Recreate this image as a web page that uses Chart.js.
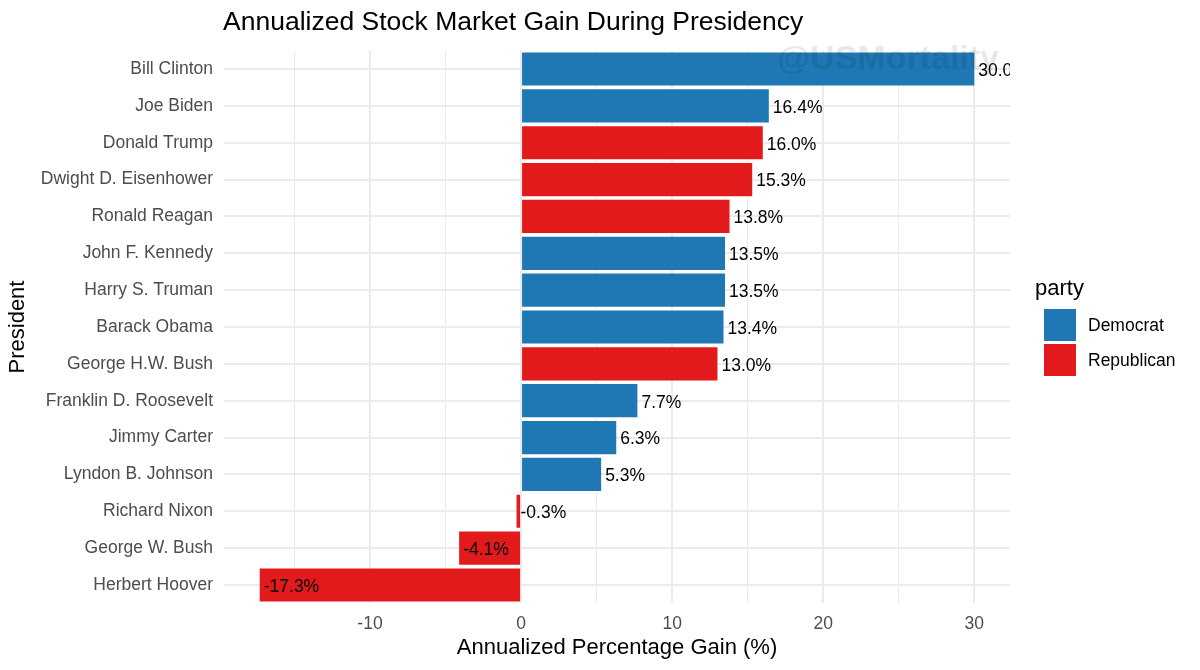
<!DOCTYPE html>
<html>
<head>
<meta charset="utf-8">
<script src="https://cdn.jsdelivr.net/npm/chart.js@4/dist/chart.umd.min.js"></script>
<style>
  html, body { margin: 0; padding: 0; background: #fff; }
  #wrap { width: 1200px; height: 670px; position: relative; }
</style>
</head>
<body>
<div id="wrap"><canvas id="c" width="1200" height="670"></canvas></div>
<script>
const presidents = ["Bill Clinton","Joe Biden","Donald Trump","Dwight D. Eisenhower","Ronald Reagan","John F. Kennedy","Harry S. Truman","Barack Obama","George H.W. Bush","Franklin D. Roosevelt","Jimmy Carter","Lyndon B. Johnson","Richard Nixon","George W. Bush","Herbert Hoover"];
const gains = [30.0, 16.4, 16.0, 15.3, 13.8, 13.5, 13.5, 13.4, 13.0, 7.7, 6.3, 5.3, -0.3, -4.1, -17.3];
const parties = ["Democrat","Democrat","Republican","Republican","Republican","Democrat","Democrat","Democrat","Republican","Democrat","Democrat","Democrat","Republican","Republican","Republican"];
const partyNames = ["Democrat","Republican"];
const partyColors = ["#1f78b4","#e31a1c"];
const majorTicks = [-10, 0, 10, 20, 30];
const minorTicks = [-15, -5, 5, 15, 25];

const FONT = "'Liberation Sans', Arial, Helvetica, sans-serif";
const xMin = -19.665, xMax = 32.365;

const datasets = partyNames.map((p, i) => ({
  label: p,
  data: gains.map((g, j) => parties[j] === p ? g : null),
  backgroundColor: partyColors[i],
  borderWidth: 0,
  barPercentage: 0.9,
  categoryPercentage: 1.0,
  skipNull: true
}));

const labelPlugin = {
  id: 'valueLabels',
  afterDatasetsDraw(chart) {
    const ctx = chart.ctx, a = chart.chartArea;
    ctx.save();
    ctx.beginPath();
    ctx.rect(a.left, a.top - 30, a.right - a.left, a.bottom - a.top + 60);
    ctx.clip();
    ctx.font = "17.5px " + FONT;
    ctx.fillStyle = "#000";
    ctx.textAlign = "left";
    ctx.textBaseline = "middle";
    chart.data.datasets.forEach((ds, di) => {
      const meta = chart.getDatasetMeta(di);
      meta.data.forEach((el, i) => {
        const v = ds.data[i];
        if (v === null || v === undefined) return;
        ctx.fillText(v.toFixed(1) + "%", el.x + 4, el.y + 2);
      });
    });
    ctx.restore();
  }
};

const decorPlugin = {
  id: 'decor',
  afterDraw(chart) {
    const ctx = chart.ctx;
    ctx.save();
    // watermark
    ctx.font = "bold 34px " + FONT;
    ctx.fillStyle = "rgba(0,0,0,0.09)";
    ctx.textAlign = "center";
    ctx.textBaseline = "middle";
    ctx.fillText("@USMortality", 888, 60);
    // title
    ctx.font = "26.5px " + FONT;
    ctx.fillStyle = "#000";
    ctx.textAlign = "left";
    ctx.fillText("Annualized Stock Market Gain During Presidency", 223, 23);
    // legend
    ctx.font = "22px " + FONT;
    ctx.fillText("party", 1035, 289);
    ctx.font = "17.5px " + FONT;
    partyNames.forEach((p, i) => {
      const y = 309 + i * 35;
      ctx.fillStyle = partyColors[i];
      ctx.fillRect(1044, y, 32, 32);
      ctx.fillStyle = "#000";
      ctx.fillText(p, 1088, y + 17);
    });
    ctx.restore();
  }
};

new Chart(document.getElementById('c'), {
  type: 'bar',
  data: { labels: presidents, datasets },
  options: {
    indexAxis: 'y',
    responsive: false,
    animation: false,
    layout: { padding: { top: 50.6, right: 190, bottom: 0, left: 5 } },
    plugins: { legend: { display: false }, tooltip: { enabled: false }, title: { display: false } },
    scales: {
      x: {
        type: 'linear',
        min: xMin, max: xMax,
        afterBuildTicks(scale) {
          scale.ticks = majorTicks.concat(minorTicks).sort((a, b) => a - b).map(v => ({ value: v }));
        },
        afterFit(scale) { scale.height = 670 - 603.4; },
        border: { display: false },
        grid: {
          drawTicks: false,
          color: "#ebebeb",
          lineWidth: ctx => (ctx.tick && majorTicks.includes(ctx.tick.value)) ? 2 : 1
        },
        ticks: {
          padding: 10,
          color: "#4d4d4d",
          font: { size: 17.5, family: FONT },
          callback: v => majorTicks.includes(v) ? String(v) : ""
        },
        title: {
          display: true,
          text: "Annualized Percentage Gain (%)",
          color: "#000",
          font: { size: 22, family: FONT },
          padding: { top: 4, bottom: 9 }
        }
      },
      y: {
        afterFit(scale) { scale.width = 219; },
        border: { display: false },
        grid: { drawTicks: false, offset: false, color: "#ebebeb", lineWidth: 2 },
        ticks: { padding: 11, color: "#4d4d4d", font: { size: 17.5, family: FONT } },
        title: {
          display: true,
          text: "President",
          color: "#000",
          font: { size: 22, family: FONT },
          padding: { top: 0, bottom: 0 }
        }
      }
    }
  },
  plugins: [labelPlugin, decorPlugin]
});
</script>
</body>
</html>
